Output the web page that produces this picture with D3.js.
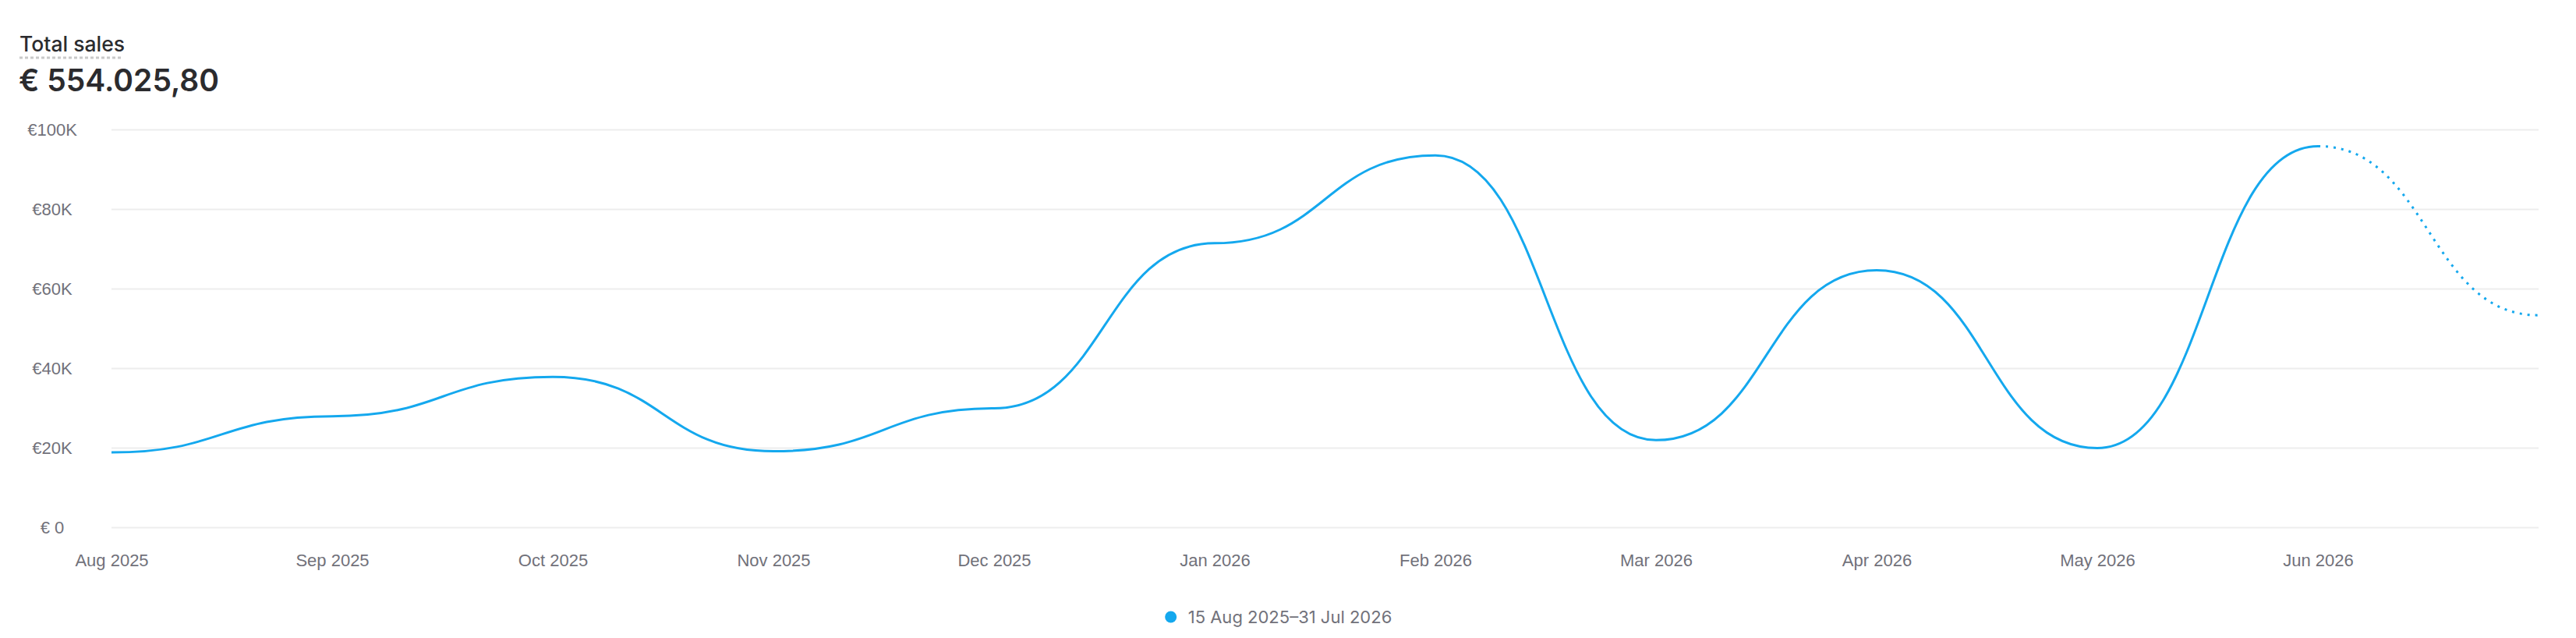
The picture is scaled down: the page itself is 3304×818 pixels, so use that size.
<!DOCTYPE html>
<html>
<head>
<meta charset="utf-8">
<script src="https://cdn.jsdelivr.net/npm/d3@7"></script>
<style>
    html, body { margin: 0; padding: 0; background: #fff; }
    svg { display: block; font-family: Inter, "Noto Sans", sans-serif; }
    .axis text { fill: #71717a; font-size: 22px; }
    .axis path { display: none; }
    .axis line { stroke: #ededed; stroke-width: 2; }
</style>
</head>
<body>
<svg id="svg" width="3304" height="818"></svg>
<script>
    "use strict";
    // monthly totals, Aug 2025 .. Jul 2026 (last point is the projection)
    let months = ["Aug 2025", "Sep 2025", "Oct 2025", "Nov 2025", "Dec 2025", "Jan 2026",
        "Feb 2026", "Mar 2026", "Apr 2026", "May 2026", "Jun 2026", "Jul 2026"];
    let sales = [18800, 27900, 37800, 19100, 29900, 71400, 93500, 21900, 64600, 19900, 95800, 53300];
    let tickLabels = months.slice(0, 11);
    let yTicks = [0, 20000, 40000, 60000, 80000, 100000];
    let title = "Total sales";
    let total = "€ 554.025,80";
    let legendLabel = "15 Aug 2025–31 Jul 2026";
    let lastActual = 10;

    const plotLeft = 143, plotRight = 3256, plotTop = 166, plotBottom = 676;
    const color = "#14a8ee";

    let svg = d3.select("#svg");

    let x = d3.scalePoint().domain(months).range([plotLeft, plotRight]);
    let y = d3.scaleLinear().domain([0, 100000]).range([plotBottom, plotTop]);

    // header
    svg.append("text")
        .attr("x", 25)
        .attr("y", 66)
        .attr("font-size", 26.5)
        .attr("font-weight", 500)
        .attr("fill", "#2b2b2e")
        .text(title);
    svg.append("line")
        .attr("x1", 25)
        .attr("x2", 158)
        .attr("y1", 74)
        .attr("y2", 74)
        .attr("stroke", "#c9c9c9")
        .attr("stroke-width", 3)
        .attr("stroke-dasharray", "4 3");
    svg.append("text")
        .attr("x", 24)
        .attr("y", 117)
        .attr("font-size", 39)
        .attr("font-weight", 600)
        .attr("fill", "#2b2b2e")
        .text(total);

    // y axis + grid
    let yAxis = svg.append("g")
        .attr("class", "axis")
        .attr("transform", `translate(${plotLeft},0)`)
        .call(d3.axisLeft(y)
            .tickValues(yTicks)
            .tickSize(-(plotRight - plotLeft))
            .tickFormat((d) => d === 0 ? "€ 0" : "€" + d / 1000 + "K"));
    yAxis.selectAll("text")
        .attr("x", -76)
        .attr("dy", "0.35em")
        .attr("text-anchor", "middle");

    // x axis labels
    let xAxis = svg.append("g")
        .attr("class", "axis")
        .attr("transform", `translate(0,${plotBottom})`)
        .call(d3.axisBottom(x).tickValues(tickLabels).tickSize(0));
    xAxis.selectAll("text")
        .attr("y", 50)
        .attr("dy", 0);

    // line
    let line = d3.line()
        .x((d) => x(d.m))
        .y((d) => y(d.v))
        .curve(d3.curveBumpX);
    let pts = months.map((m, i) => ({ m: m, v: sales[i] }));

    svg.append("path")
        .datum(pts.slice(0, lastActual + 1))
        .attr("d", line)
        .attr("fill", "none")
        .attr("stroke", color)
        .attr("stroke-width", 3);
    svg.append("path")
        .datum(pts.slice(lastActual))
        .attr("d", line)
        .attr("fill", "none")
        .attr("stroke", color)
        .attr("stroke-width", 3)
        .attr("stroke-dasharray", "3 7");

    // legend
    let legend = svg.append("g");
    legend.append("circle")
        .attr("r", 7.5)
        .attr("cx", 0)
        .attr("cy", 0)
        .attr("fill", color);
    let lt = legend.append("text")
        .attr("x", 22)
        .attr("dy", "0.35em")
        .attr("font-size", 22)
        .attr("fill", "#71717a")
        .text(legendLabel);
    let lw = 22 + lt.node().getComputedTextLength();
    legend.attr("transform", `translate(${(plotLeft + plotRight) / 2 - lw / 2 - 56},791)`);
</script>
</body>
</html>
